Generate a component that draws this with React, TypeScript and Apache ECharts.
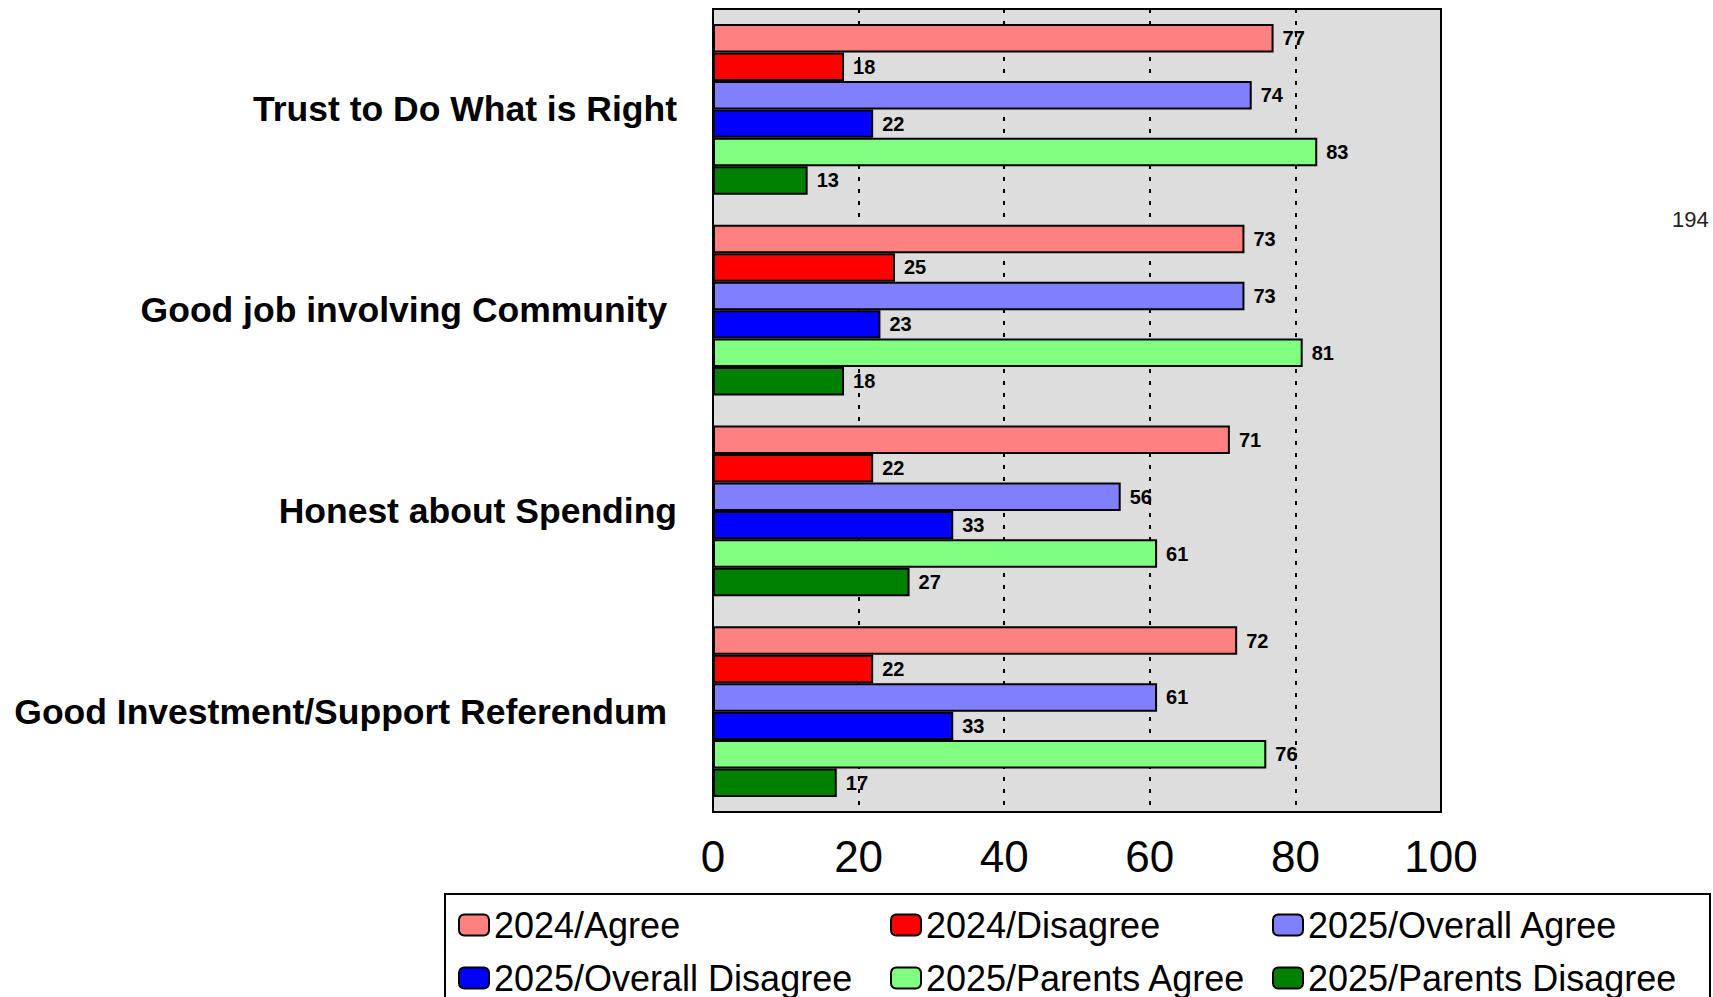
import React, { useEffect, useRef } from "react";
import * as echarts from "echarts";

const categories = [
  "Trust to Do What is Right",
  "Good job involving Community ",
  "Honest about Spending",
  "Good Investment/Support Referendum ",
];
const seriesNames = [
  "2024/Agree",
  "2024/Disagree",
  "2025/Overall Agree",
  "2025/Overall Disagree",
  "2025/Parents Agree",
  "2025/Parents Disagree",
];
const agree2024 = [77, 73, 71, 72];
const disagree2024 = [18, 25, 22, 22];
const overallAgree2025 = [74, 73, 56, 61];
const overallDisagree2025 = [22, 23, 33, 33];
const parentsAgree2025 = [83, 81, 61, 76];
const parentsDisagree2025 = [13, 18, 27, 17];
const xTicks = [0, 20, 40, 60, 80, 100];
const pageNumber = "194";

const seriesValues = [
  agree2024,
  disagree2024,
  overallAgree2025,
  overallDisagree2025,
  parentsAgree2025,
  parentsDisagree2025,
];
const colors = ["#FF8080", "#FF0000", "#8080FF", "#0000FF", "#80FF80", "#008000"];
const FONT = "'Liberation Sans', Arial, Helvetica, sans-serif";

export default function App() {
  const ref = useRef<HTMLDivElement>(null);
  useEffect(() => {
    if (!ref.current) return;
    const chart = echarts.init(ref.current, undefined, { renderer: "svg" });
    const legendCommon = {
      orient: "vertical" as const,
      top: 907,
      padding: 0,
      itemGap: 17,
      itemWidth: 30,
      itemHeight: 21,
      icon: "roundRect",
      itemStyle: { borderColor: "#000", borderWidth: 2 },
      textStyle: { fontFamily: FONT, fontSize: 36, color: "#000", lineHeight: 36 },
      selectedMode: false,
    };
    chart.setOption({
      animation: false,
      backgroundColor: "#FFFFFF",
      textStyle: { fontFamily: FONT },
      grid: {
        left: 713,
        top: 9,
        width: 728,
        height: 803,
        show: true,
        backgroundColor: "#DDDDDD",
        borderColor: "#000",
        borderWidth: 2,
        containLabel: false,
      },
      xAxis: {
        type: "value",
        min: xTicks[0],
        max: xTicks[xTicks.length - 1],
        interval: 20,
        axisLine: { show: false },
        axisTick: { show: false },
        axisLabel: { fontFamily: FONT, fontSize: 44, color: "#000", margin: 22 },
        splitLine: { show: true, lineStyle: { color: "#000", width: 2, type: [4, 8] } },
      },
      yAxis: {
        type: "category",
        inverse: true,
        data: categories,
        axisLine: { show: false },
        axisTick: { show: false },
        axisLabel: {
          fontFamily: FONT,
          fontSize: 35.5,
          fontWeight: "bold",
          color: "#000",
          margin: 36,
          lineHeight: 44,
          padding: [8, 0, 0, 0],
        },
      },
      legend: [
        { ...legendCommon, left: 458, data: [seriesNames[0], seriesNames[3]] },
        { ...legendCommon, left: 890, data: [seriesNames[1], seriesNames[4]] },
        { ...legendCommon, left: 1272, data: [seriesNames[2], seriesNames[5]] },
      ],
      series: seriesNames.map((name, i) => ({
        name,
        type: "bar",
        data: seriesValues[i],
        barCategoryGap: "15%",
        barGap: "0%",
        itemStyle: { color: colors[i], borderColor: "#000", borderWidth: 2 },
        label: {
          show: true,
          position: "right",
          distance: 9,
          fontFamily: FONT,
          fontSize: 20,
          fontWeight: "bold",
          color: "#000",
        },
      })),
      graphic: [
        {
          type: "rect",
          shape: { x: 445, y: 894, width: 1265, height: 110 },
          style: { fill: "transparent", stroke: "#000", lineWidth: 2 },
          z: 0,
        },
        {
          type: "text",
          x: 1672,
          y: 219,
          style: {
            text: pageNumber,
            fontFamily: FONT,
            fontSize: 22,
            fill: "#222",
            verticalAlign: "middle",
          },
        },
      ],
    });
    return () => chart.dispose();
  }, []);
  return (
    <div
      ref={ref}
      style={{ position: "fixed", left: 0, top: 0, width: 1713, height: 997 }}
    />
  );
}
